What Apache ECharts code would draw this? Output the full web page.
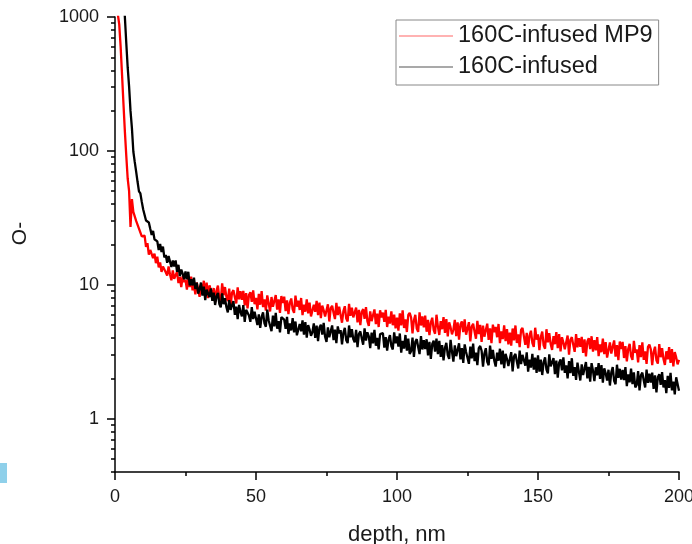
<!DOCTYPE html>
<html><head><meta charset="utf-8">
<script src="https://cdn.jsdelivr.net/npm/echarts@6/dist/echarts.min.js"></script>
<style>html,body{margin:0;padding:0;background:#fff}#c{width:692px;height:544px}</style>
</head><body><div id="c"></div>
<script>
const seriesNames = ['160C-infused MP9', '160C-infused'];
const seriesColors = ['#ff0000', '#000000'];
const depthStart = 0;
const depthStep = 0.5;
const mp9Values = [
1400,1250,1050,880,600,370,225,140,92,62,
50,27,43.6,35.1,34.5,30.0,30.5,26.3,26.7,23.0,
22.7,23.3,19.2,20.5,16.8,18.2,18.0,15.8,17.1,14.5,
16.2,13.5,14.7,12.5,13.7,14.1,12.4,11.7,13.7,12.0,
10.8,12.8,11.1,11.8,12.5,10.3,11.4,9.6,11.6,10.5,
10.9,9.2,11.3,9.6,11.5,9.1,10.0,8.5,10.4,10.7,
8.13,10.05,8.88,10.72,8.38,10.39,7.96,9.89,9.13,8.21,
9.46,7.41,9.07,9.85,7.96,7.57,10.25,8.36,9.62,8.12,
7.55,9.35,6.96,8.75,9.12,8.08,7.25,9.57,7.78,8.97,
7.74,9.02,7.02,8.67,6.66,8.38,8.81,7.45,9.09,7.16,
7.99,6.55,8.55,7.10,8.96,6.82,7.79,6.41,8.34,8.61,
6.32,8.11,6.85,7.58,8.38,6.52,7.78,6.18,8.24,7.31,
8.16,6.36,7.64,6.04,7.32,7.90,6.55,6.17,8.29,6.87,
7.60,6.49,7.97,5.93,7.11,6.30,7.79,6.12,7.35,5.81,
5.75,7.11,6.28,7.59,5.93,7.35,5.63,6.99,6.46,5.81,
5.78,7.15,5.32,6.69,6.98,6.18,5.55,7.32,5.95,6.86,
6.65,5.21,6.37,6.92,5.60,5.32,7.20,5.87,6.76,5.71,
5.79,6.75,5.25,6.49,4.99,6.27,6.59,5.58,6.81,5.36,
4.94,6.34,5.35,5.93,6.55,5.09,6.08,4.84,6.45,5.72,
6.19,5.29,6.50,4.84,5.79,5.14,6.34,4.99,5.99,4.73,
5.68,4.54,6.11,4.98,6.44,4.76,5.52,4.44,5.95,6.17,
5.70,4.34,5.44,5.96,4.71,4.45,6.22,4.97,5.81,4.81,
5.88,4.46,5.48,4.21,5.22,5.68,4.61,4.31,5.98,4.87,
4.22,5.35,4.66,5.74,4.37,5.55,4.12,5.25,4.81,4.27,
4.62,5.47,4.14,5.24,3.90,5.05,5.33,4.43,5.52,4.24,
4.15,5.26,3.78,4.89,5.12,4.47,3.96,5.39,4.29,5.02,
3.75,4.95,4.10,4.59,5.13,3.88,4.73,3.66,5.04,4.42,
4.84,4.06,5.10,3.67,4.49,3.93,4.97,3.80,4.67,3.59,
4.39,3.51,4.72,3.85,4.97,3.68,4.26,3.43,4.60,4.77,
4.70,3.56,4.37,3.36,4.17,4.54,3.69,3.44,4.78,3.89,
4.27,3.25,4.08,4.47,3.53,3.33,4.66,3.72,4.35,3.61,
3.26,4.13,3.60,4.43,3.37,4.28,3.18,4.06,3.71,3.30,
3.30,4.18,3.01,3.89,4.07,3.56,3.16,4.29,3.41,4.00,
3.45,4.09,3.10,3.92,2.92,3.77,3.99,3.31,4.13,3.17,
3.86,3.24,4.07,2.93,3.59,3.14,3.97,3.04,3.73,2.86,
2.81,3.71,3.07,3.44,3.84,2.91,3.54,2.74,3.77,3.31,
3.75,2.84,3.49,2.68,3.33,3.62,2.94,2.75,3.81,3.10,
3.29,2.63,3.54,2.88,3.72,2.75,3.19,2.57,3.44,3.57,
3.30,2.51,3.15,3.45,2.73,2.58,3.61,2.88,3.36,2.79,
2.52,3.19,2.78,3.43,2.61,3.31,2.46,3.14,2.87,2.55,
2.75
];
const infusedValues = [
3000,3000,3000,3000,3000,3000,1500,1000,640,420,
302,199,148,99,82.8,70,58.8,49.9,48.1,41.6,
36.5,37.0,30.2,30.7,29.2,26.2,23.6,25.3,21.9,22.3,
21.1,18.2,20.2,17.6,19.3,16.0,16.7,14.6,16.4,16.3,
13.6,15.2,13.7,15.2,12.5,14.1,11.6,13.0,12.1,11.0,
12.6,11.0,12.5,9.9,11.0,9.9,11.3,9.3,10.4,8.6,
9.3,10.4,8.3,9.7,7.7,9.2,9.4,8.1,9.4,7.6,
8.75,7.07,8.22,8.7,7.18,6.79,8.63,7.17,7.96,6.82,
6.23,7.67,6.51,7.01,7.56,5.96,6.87,5.55,7.07,6.27,
5.81,7.05,5.29,6.5,6.67,5.9,5.29,6.81,5.55,6.3,
6.43,5.01,6.02,4.76,5.77,6.23,5.16,4.86,6.53,5.42,
5.51,4.51,5.89,4.89,6.17,4.70,5.36,4.42,5.74,5.93,
5.50,4.69,5.76,4.29,5.14,4.56,5.63,4.42,5.32,4.20,
4.12,5.09,4.50,5.43,4.24,5.26,4.03,5.01,4.63,4.16,
4.42,5.15,4.01,4.95,3.80,4.79,5.03,4.25,5.19,4.09,
3.75,4.81,4.06,4.50,4.97,3.87,4.62,3.67,4.89,4.34,
4.58,3.59,4.39,4.77,3.86,3.67,4.97,4.05,4.66,3.93,
3.72,4.61,3.43,4.31,4.49,3.98,3.57,4.72,3.83,4.42,
4.12,3.37,4.40,3.66,4.61,3.51,4.01,3.30,4.29,4.44,
4.35,3.39,4.07,3.22,3.90,4.21,3.49,3.29,4.42,3.66,
4.11,3.45,4.33,3.12,3.82,3.34,4.22,3.23,3.96,3.05,
3.19,4.04,2.90,3.75,3.93,3.43,3.04,4.14,3.29,3.86,
3.31,3.92,2.97,3.75,2.80,3.61,3.82,3.17,3.96,3.03,
3.82,2.90,3.55,2.73,3.39,3.68,2.99,2.80,3.88,3.16,
2.67,3.53,2.93,3.28,3.66,2.77,3.37,2.61,3.59,3.15,
3.21,2.57,3.46,2.82,3.64,2.69,3.12,2.51,3.37,3.49,
3.22,2.45,3.07,3.36,2.66,2.51,3.51,2.80,3.27,2.71,
2.45,3.11,2.71,3.33,2.54,3.22,2.39,3.05,2.79,2.48,
2.48,3.14,2.26,2.92,3.05,2.67,2.37,3.22,2.56,3.00,
2.97,2.49,3.13,2.25,2.76,2.41,3.05,2.33,2.86,2.20,
2.97,2.25,2.76,2.12,2.64,2.87,2.33,2.18,3.02,2.46,
2.40,2.84,2.15,2.72,2.03,2.62,2.77,2.30,2.87,2.20,
2.50,2.00,2.69,2.19,2.83,2.09,2.43,1.95,2.62,2.71,
1.93,2.55,2.12,2.37,2.65,2.00,2.44,1.89,2.60,2.28,
1.91,2.42,2.11,2.60,1.98,2.51,1.86,2.38,2.18,1.93,
2.32,1.77,2.22,2.43,1.92,1.81,2.53,2.02,2.36,1.96,
2.31,1.94,2.43,1.75,2.14,1.87,2.37,1.81,2.22,1.71,
1.79,2.27,1.63,2.11,2.21,1.93,1.71,2.33,1.85,2.17,
1.86,2.21,1.67,2.11,1.57,2.04,2.15,1.79,2.23,1.71,
1.94,1.55,2.09,1.70,2.20,1.63,1.89,1.52,2.04,2.11,
1.62
];
const xMin = 0, xMax = 200, xInterval = 50;
const yMin = 0.4, yMax = 1000;
const yMajorTicks = [1, 10, 100, 1000];
const yMinorTicks = [0.4,0.5,0.6,0.7,0.8,0.9,2,3,4,5,6,7,8,9,20,30,40,50,60,70,80,90,200,300,400,500,600,700,800,900];

function toPairs(vals) { return vals.map((v, i) => [depthStart + i * depthStep, v]); }

const font = '"Liberation Sans", Arial, sans-serif';
const txt = '#1a1a1a';
const chart = echarts.init(document.getElementById('c'), null, {renderer: 'canvas'});
chart.setOption({
  animation: false,
  backgroundColor: '#fff',
  grid: {left: 115, right: 13, top: 17, bottom: 72, containLabel: false, outerBoundsMode: 'none'},
  legend: {
    orient: 'vertical', left: 396, top: 20,
    padding: [4, 6, 6, 3], itemGap: 7, itemWidth: 54, itemHeight: 1,
    icon: 'rect',
    borderColor: '#888', borderWidth: 1,
    textStyle: {fontSize: 23.5, color: txt, fontFamily: font},
    data: [
      {name: seriesNames[0], itemStyle: {color: '#ff6666'}},
      {name: seriesNames[1], itemStyle: {color: '#555555'}}
    ]
  },
  graphic: [{type: 'rect', shape: {x: 0, y: 463, width: 7, height: 20}, style: {fill: '#8fd0ea'}}],
  xAxis: {
    type: 'value', min: xMin, max: xMax, interval: xInterval,
    name: 'depth, nm', nameLocation: 'middle', nameGap: 52,
    nameTextStyle: {fontSize: 22, color: txt, fontFamily: font},
    axisLine: {show: true, onZero: false, lineStyle: {color: '#000', width: 1.5}},
    axisTick: {show: true, length: 8, lineStyle: {color: '#000', width: 1.5}},
    minorTick: {show: true, splitNumber: 2, length: 4, lineStyle: {color: '#000', width: 1.5}},
    splitLine: {show: false}, minorSplitLine: {show: false},
    axisLabel: {fontSize: 18, color: txt, fontFamily: font, margin: 16}
  },
  yAxis: [{
    type: 'log', logBase: 10, min: yMin, max: yMax, position: 'left',
    name: 'O-', nameLocation: 'middle', nameGap: 84,
    nameTextStyle: {fontSize: 21, color: txt, fontFamily: font, padding: [0, 0, 0, 22]},
    axisLine: {show: true, lineStyle: {color: '#000', width: 1.5}},
    axisTick: {show: true, length: 8, customValues: yMajorTicks, lineStyle: {color: '#000', width: 1.5}},
    axisLabel: {customValues: yMajorTicks, fontSize: 18, color: txt, fontFamily: font, margin: 16,
      formatter: v => String(Math.round(v))},
    splitLine: {show: false}
  }, {
    type: 'log', logBase: 10, min: yMin, max: yMax, position: 'left', offset: 0,
    axisLine: {show: false},
    axisTick: {show: true, length: 4, customValues: yMinorTicks, lineStyle: {color: '#000', width: 1.5}},
    axisLabel: {show: false},
    splitLine: {show: false}
  }],
  series: [{
    name: seriesNames[0], type: 'line', yAxisIndex: 0, data: toPairs(mp9Values),
    symbol: 'none', showSymbol: false, clip: true,
    lineStyle: {color: seriesColors[0], width: 2.3, join: 'bevel'}, itemStyle: {color: seriesColors[0]}
  }, {
    name: seriesNames[1], type: 'line', yAxisIndex: 0, data: toPairs(infusedValues),
    symbol: 'none', showSymbol: false, clip: true,
    lineStyle: {color: seriesColors[1], width: 2.3, join: 'bevel'}, itemStyle: {color: seriesColors[1]}
  }]
});
</script></body></html>
